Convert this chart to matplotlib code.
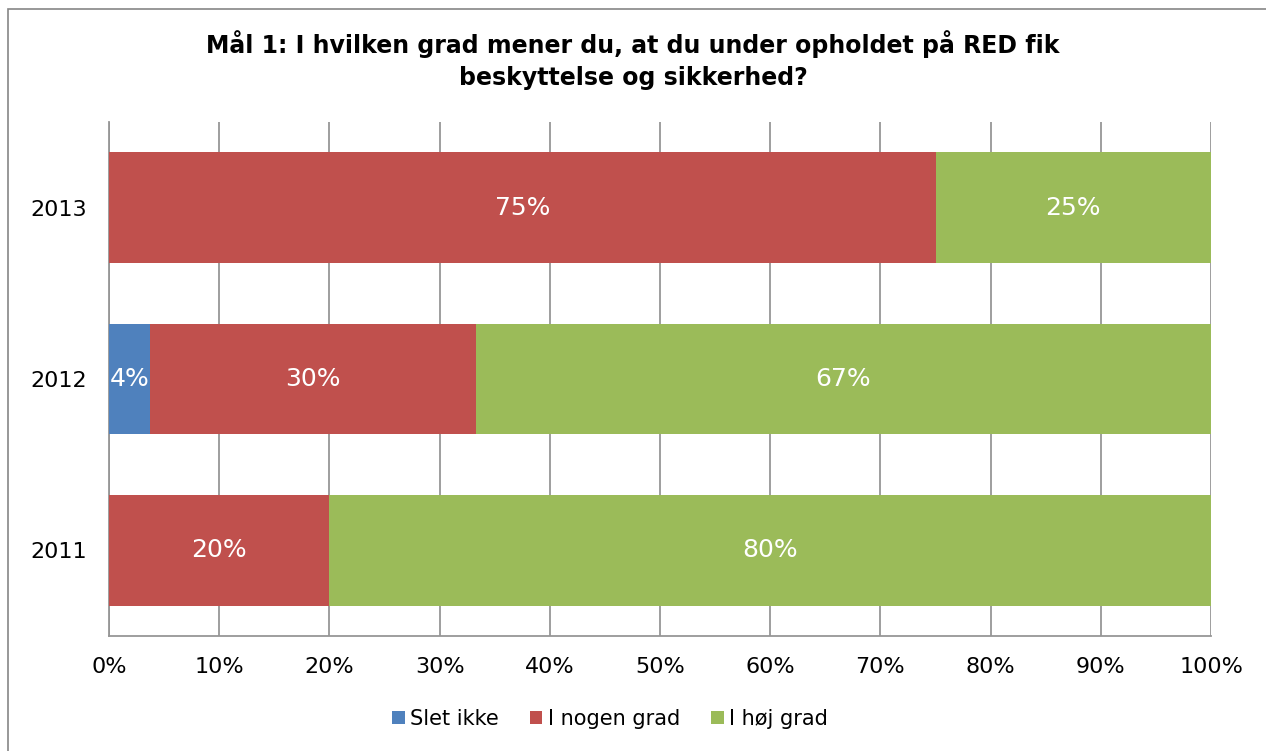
import matplotlib.pyplot as plt
import numpy as np
from matplotlib.patches import Rectangle

# Data
years = ["2011", "2012", "2013"]
series_names = ["Slet ikke", "I nogen grad", "I høj grad"]
slet_ikke = [0.0, 3.7, 0.0]
nogen_grad = [20.0, 29.6, 75.0]
hoej_grad = [80.0, 66.7, 25.0]
label_text = [
    ["", "4%", ""],
    ["20%", "30%", "75%"],
    ["80%", "67%", "25%"],
]
colors = ["#4F81BD", "#C0504D", "#9BBB59"]
title = "Mål 1: I hvilken grad mener du, at du under opholdet på RED fik\nbeskyttelse og sikkerhed?"

plt.rcParams["font.family"] = ["DejaVu Sans"]
FS = 16

fig = plt.figure(figsize=(12.66, 7.51), dpi=100)
ax = fig.add_axes([109 / 1266, 1 - 636 / 751, (1211 - 109) / 1266, (636 - 122) / 751])

# outer chart border (right and bottom edges run off the image)
fig.patches.append(Rectangle((8 / 1266, -0.05), 2, (751 - 9) / 751 + 0.05, transform=fig.transFigure,
                             fill=False, edgecolor="#868686", linewidth=1.2))

y = np.arange(len(years))
left = np.zeros(len(years))
for name, vals, col, labels in zip(series_names, [slet_ikke, nogen_grad, hoej_grad], colors, label_text):
    vals = np.asarray(vals)
    ax.barh(y, vals, left=left, height=0.645, color=col, label=name, zorder=3)
    for yi, (l, v, t) in enumerate(zip(left, vals, labels)):
        if t:
            ax.text(l + v / 2, yi, t, ha="center", va="center", color="white", fontsize=18, zorder=4)
    left = left + vals

ax.set_xlim(0, 100)
ax.set_ylim(-0.5, 2.5)
ax.set_xticks(np.arange(0, 101, 10))
ax.set_xticklabels([f"{v}%" for v in range(0, 101, 10)])
ax.set_yticks(y)
ax.set_yticklabels(years)
ax.xaxis.grid(True, color="#969696", linewidth=1.3, zorder=0)
ax.tick_params(axis="both", length=0, labelsize=FS, colors="black")
ax.tick_params(axis="x", pad=15)
ax.tick_params(axis="y", pad=16)
for side in ["top", "right"]:
    ax.spines[side].set_visible(False)
for side in ["left", "bottom"]:
    ax.spines[side].set_color("#969696")
    ax.spines[side].set_linewidth(1.3)

fig.text(0.5, 1 - 60 / 751, title, ha="center", va="center", fontsize=17,
         fontweight="bold", linespacing=1.4)

ax.legend(loc="center", bbox_to_anchor=((610 - 109) / 1102, (636 - 719) / (636 - 122)), ncol=3,
          frameon=False, fontsize=15, handlelength=0.6, handleheight=0.6, handletextpad=0.25,
          columnspacing=1.5)

fig.savefig("out.png", dpi=100)
